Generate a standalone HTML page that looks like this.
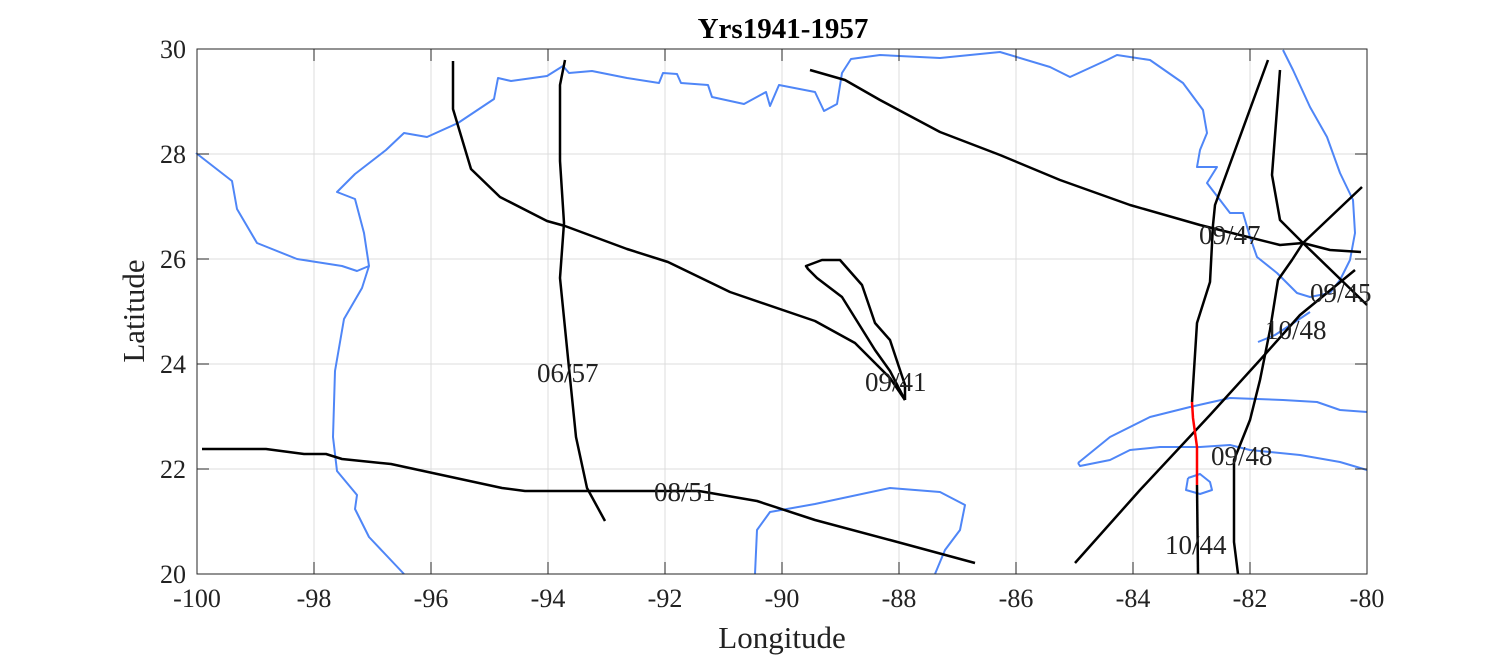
<!DOCTYPE html>
<html><head><meta charset="utf-8"><style>
html,body{margin:0;padding:0;background:#fff;}
svg{display:block;}
text{font-family:"Liberation Serif",serif;fill:#222;}
</style></head><body>
<svg width="1512" height="657" viewBox="0 0 1512 657" xmlns="http://www.w3.org/2000/svg">
<rect width="1512" height="657" fill="#fff"/>
<g stroke="#dcdcdc" stroke-width="1">
<line x1="314" y1="49" x2="314" y2="574"/><line x1="431" y1="49" x2="431" y2="574"/><line x1="548" y1="49" x2="548" y2="574"/><line x1="665" y1="49" x2="665" y2="574"/><line x1="782" y1="49" x2="782" y2="574"/><line x1="899" y1="49" x2="899" y2="574"/><line x1="1016" y1="49" x2="1016" y2="574"/><line x1="1133" y1="49" x2="1133" y2="574"/><line x1="1250" y1="49" x2="1250" y2="574"/>
<line x1="197" y1="154" x2="1367" y2="154"/><line x1="197" y1="259" x2="1367" y2="259"/><line x1="197" y1="364" x2="1367" y2="364"/><line x1="197" y1="469" x2="1367" y2="469"/>
</g>
<g fill="none" stroke="#4f86f7" stroke-width="2" stroke-linejoin="round">
<polyline points="196,153 232,181 237,209 257,243 297,259 342,266 357,271 369,266 362,288 344,319 335,371 333,437 337,471 357,495 355,509 369,537 404,574"/>
<polyline points="369,266 364,233 355,199 337,192 355,174 386,150 404,133 427,137 458,123 494,99 498,78 511,81 547,76 563,66 569,73 592,71 627,78 659,83 663,73 677,74 681,83 708,85 712,97 744,104 766,92 770,106 779,85 815,92 824,111 837,104 842,73 851,59 880,55 940,58 1000,52 1050,67 1070,77 1107,60 1117,55 1150,60 1183,83 1203,110 1207,133 1200,150 1197,167 1217,167 1207,183 1230,213 1243,213 1250,237 1257,257 1277,273 1297,293 1310,297 1330,293 1340,280 1350,260 1355,233 1353,200 1340,173 1327,137 1310,107 1293,70 1283,50"/>
<polyline points="755,574 757,530 770,512 815,504 890,488 940,492 965,505 960,530 945,550 935,574"/>
<polyline points="1078,463 1110,437 1150,417 1190,407 1230,398 1283,400 1317,402 1340,410 1367,412"/>
<polyline points="1367,470 1340,462 1300,455 1250,450 1230,445 1200,447 1160,447 1130,450 1110,460 1080,466 1078,463"/>
<polyline points="1188,478 1200,474 1210,482 1212,490 1200,494 1186,490 1188,478"/>
<polyline points="1258,342 1275,335 1295,322 1310,312"/>
</g>
<g fill="none" stroke="#000" stroke-width="2.5" stroke-linejoin="round">
<polyline points="453,61 453,109 471,169 500,197 547,221 565,226 627,249 668,262 730,292 815,321 855,343 890,378 905,400"/>
<polyline points="905,400 890,371 875,350 842,297 817,278 808,269 806,266 822,260 840,260 862,285 875,323 890,340 905,385 905,400"/>
<polyline points="565,60 560,85 560,161 564,223 560,278 569,368 576,437 587,488 605,521"/>
<polyline points="202,449 266,449 304,454 326,454 342,459 391,464 502,488 525,491 699,491 757,501 815,520 890,540 975,563"/>
<polyline points="810,70 845,80 880,100 940,132 1000,155 1060,180 1130,205 1200,225 1240,235 1280,245 1303,243 1330,250 1361,252"/>
<polyline points="1198,574 1197,485"/>
<polyline points="1192,402 1197,323 1210,282 1213,225 1215,205 1268,60"/>
<polyline points="1238,574 1234,542 1234,460 1240,445 1250,420 1260,380 1270,330 1278,280 1292,260 1303,243 1362,187"/>
<polyline points="1280,70 1272,175 1280,220 1303,243 1367,305"/>
<polyline points="1075,563 1140,490 1210,415 1260,360 1300,315 1355,270"/>
</g>
<polyline points="1197,485 1197,447 1193,418 1192,402" fill="none" stroke="#f00" stroke-width="2.5"/>
<rect x="197" y="49" width="1170" height="525" fill="none" stroke="#262626" stroke-width="1"/>
<g stroke="#262626" stroke-width="1">
<line x1="314" y1="574" x2="314" y2="562"/><line x1="431" y1="574" x2="431" y2="562"/><line x1="548" y1="574" x2="548" y2="562"/><line x1="665" y1="574" x2="665" y2="562"/><line x1="782" y1="574" x2="782" y2="562"/><line x1="899" y1="574" x2="899" y2="562"/><line x1="1016" y1="574" x2="1016" y2="562"/><line x1="1133" y1="574" x2="1133" y2="562"/><line x1="1250" y1="574" x2="1250" y2="562"/>
<line x1="314" y1="49" x2="314" y2="61"/><line x1="431" y1="49" x2="431" y2="61"/><line x1="548" y1="49" x2="548" y2="61"/><line x1="665" y1="49" x2="665" y2="61"/><line x1="782" y1="49" x2="782" y2="61"/><line x1="899" y1="49" x2="899" y2="61"/><line x1="1016" y1="49" x2="1016" y2="61"/><line x1="1133" y1="49" x2="1133" y2="61"/><line x1="1250" y1="49" x2="1250" y2="61"/>
<line x1="197" y1="154" x2="209" y2="154"/><line x1="197" y1="259" x2="209" y2="259"/><line x1="197" y1="364" x2="209" y2="364"/><line x1="197" y1="469" x2="209" y2="469"/>
<line x1="1367" y1="154" x2="1355" y2="154"/><line x1="1367" y1="259" x2="1355" y2="259"/><line x1="1367" y1="364" x2="1355" y2="364"/><line x1="1367" y1="469" x2="1355" y2="469"/>
</g>
<g font-size="26" text-anchor="middle">
<text x="197" y="607">-100</text><text x="314" y="607">-98</text><text x="431" y="607">-96</text><text x="548" y="607">-94</text><text x="665" y="607">-92</text><text x="782" y="607">-90</text><text x="899" y="607">-88</text><text x="1016" y="607">-86</text><text x="1133" y="607">-84</text><text x="1250" y="607">-82</text><text x="1367" y="607">-80</text>
</g>
<g font-size="26" text-anchor="end">
<text x="186" y="58">30</text><text x="186" y="163">28</text><text x="186" y="268">26</text><text x="186" y="373">24</text><text x="186" y="478">22</text><text x="186" y="583">20</text>
</g>
<text x="782" y="648" font-size="31" text-anchor="middle">Longitude</text>
<text transform="translate(144,311) rotate(-90)" font-size="31" text-anchor="middle">Latitude</text>
<text x="783" y="38" font-size="29" font-weight="bold" text-anchor="middle" style="fill:#000">Yrs1941-1957</text>
<g font-size="27" style="fill:#000">
<text x="537" y="382">06/57</text>
<text x="865" y="391">09/41</text>
<text x="654" y="501">08/51</text>
<text x="1199" y="244">09/47</text>
<text x="1310" y="302">09/45</text>
<text x="1265" y="339">10/48</text>
<text x="1211" y="465">09/48</text>
<text x="1165" y="554">10/44</text>
</g>
</svg>
</body></html>
